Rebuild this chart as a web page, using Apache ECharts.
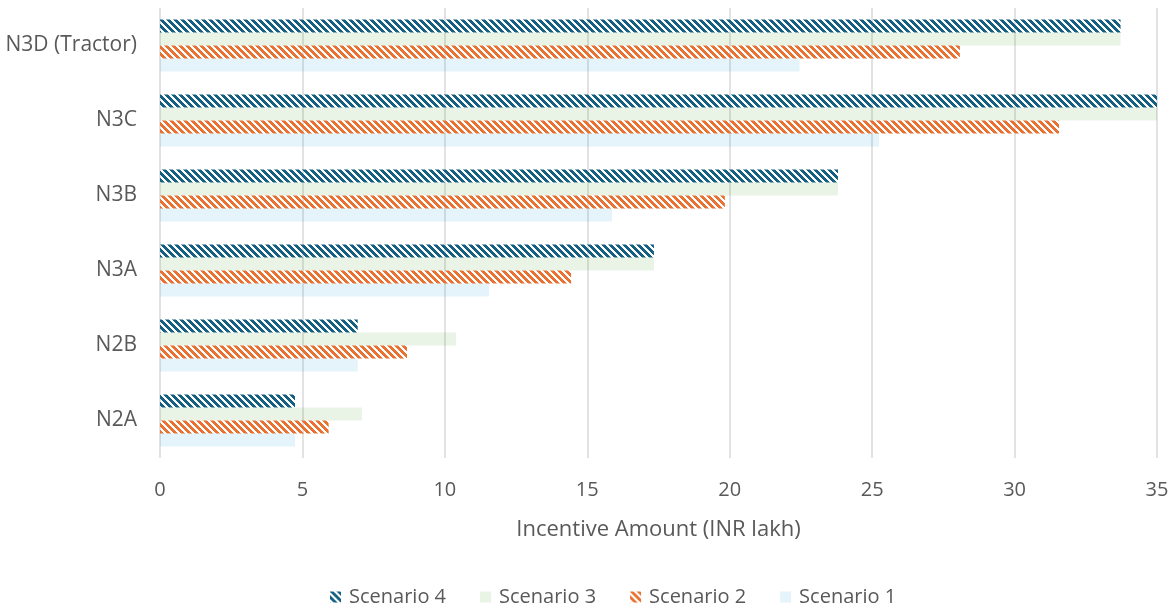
<!DOCTYPE html>
<html>
<head>
<meta charset="utf-8">
<script src="https://cdn.jsdelivr.net/npm/echarts@6/dist/echarts.min.js"></script>
<style>
  html, body { margin: 0; padding: 0; background: #ffffff; }
  #chart { width: 1176px; height: 612px; }
</style>
</head>
<body>
<div id="chart"></div>
<script>
// Vehicle categories, listed bottom to top
const categories = ['N2A', 'N2B', 'N3A', 'N3B', 'N3C', 'N3D (Tractor)'];

// Incentive amount per category (INR lakh)
const scenario1 = [4.74, 6.94, 11.55, 15.87, 25.24, 22.45];
const scenario2 = [5.92, 8.67, 14.43, 19.83, 31.56, 28.08];
const scenario3 = [7.09, 10.39, 17.34, 23.80, 35.00, 33.72];
const scenario4 = [4.74, 6.94, 17.34, 23.80, 35.00, 33.72];

const xTicks = { min: 0, max: 35, interval: 5 };
const legendOrder = ['Scenario 4', 'Scenario 3', 'Scenario 2', 'Scenario 1'];

const FONT = '"Open Sans", "Liberation Sans", sans-serif';
const TEXT = '#595959';

// Crisp pixel stripes running top-left to bottom-right, transparent between
function stripes(color) {
  const n = 7, on = 4;
  const c = document.createElement('canvas');
  c.width = n; c.height = n;
  const g = c.getContext('2d');
  g.fillStyle = color;
  for (let y = 0; y < n; y++) {
    for (let x = 0; x < n; x++) {
      if (((x - y) % n + n) % n < on) g.fillRect(x, y, 1, 1);
    }
  }
  return { image: c, repeat: 'repeat' };
}

// Series are listed top-to-bottom within each category group
const series = [
  { name: 'Scenario 4', data: scenario4, color: stripes('#156082') },
  { name: 'Scenario 3', data: scenario3, color: 'rgba(78,167,46,0.12)' },
  { name: 'Scenario 2', data: scenario2, color: stripes('#E97132') },
  { name: 'Scenario 1', data: scenario1, color: 'rgba(15,158,213,0.11)' }
].map(s => ({
  name: s.name,
  type: 'bar',
  data: s.data,
  barWidth: 13,
  barGap: '0%',
  itemStyle: { color: s.color },
  emphasis: { disabled: true }
}));

const chart = echarts.init(document.getElementById('chart'), null, { renderer: 'canvas' });
chart.setOption({
  animation: false,
  backgroundColor: '#ffffff',
  grid: { left: 160, right: 19, top: 8, bottom: 154, containLabel: false },
  legend: {
    data: legendOrder,
    top: 587,
    left: 330,
    padding: 0,
    icon: 'rect',
    itemWidth: 11,
    itemHeight: 11,
    itemGap: 34,
    textStyle: { fontFamily: FONT, fontSize: 20, color: TEXT, padding: [0, 0, 0, 3] }
  },
  xAxis: {
    type: 'value',
    min: xTicks.min,
    max: xTicks.max,
    interval: xTicks.interval,
    name: 'Incentive Amount (INR lakh)',
    nameLocation: 'middle',
    nameGap: 61,
    nameTextStyle: { fontFamily: FONT, fontSize: 22, color: TEXT },
    axisLine: { show: false },
    axisTick: { show: false },
    axisLabel: { margin: 22, fontFamily: FONT, fontSize: 20, color: TEXT },
    splitLine: { show: true, lineStyle: { color: '#d9d9d9', width: 1.5 } }
  },
  yAxis: {
    type: 'category',
    data: categories,
    axisLine: { show: false },
    axisTick: { show: false },
    axisLabel: { margin: 23, fontFamily: FONT, fontSize: 21, color: TEXT }
  },
  series: series
});
</script>
</body>
</html>
